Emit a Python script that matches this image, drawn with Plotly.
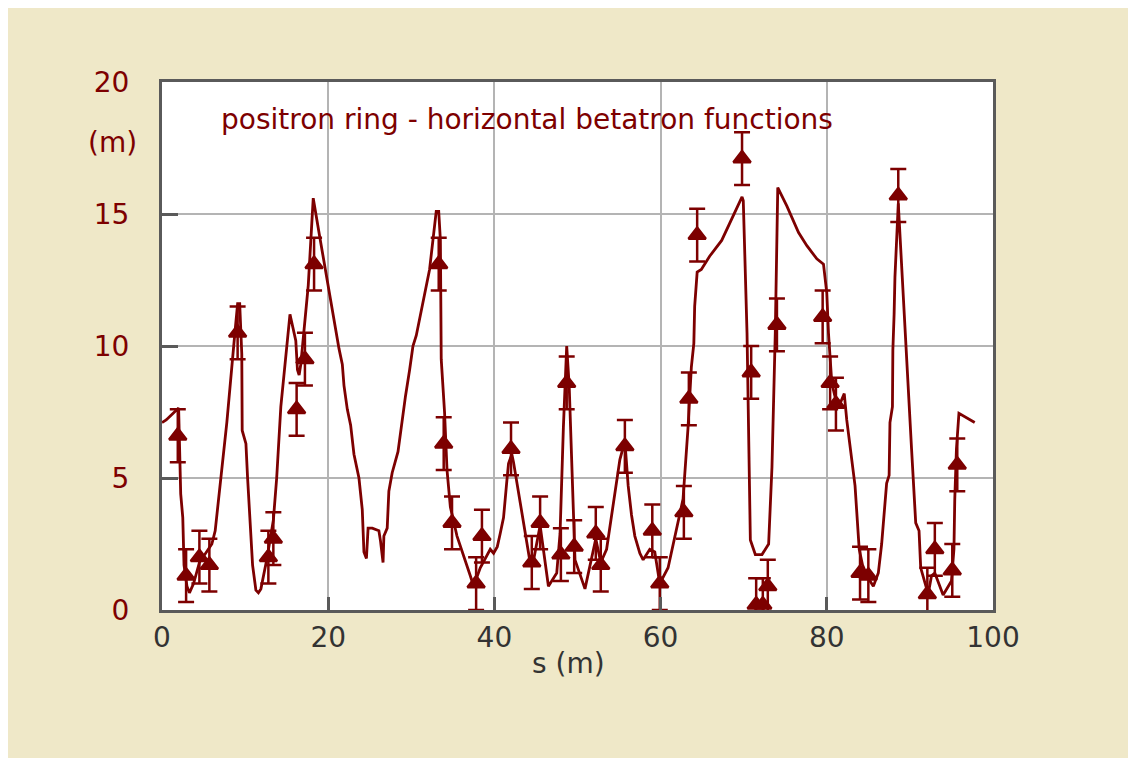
import plotly.graph_objects as go

# Model curve: horizontal beta function (m) vs s (m)
s_model = [0.0, 0.5, 1.0, 1.5, 2.0, 2.25, 2.5, 2.65, 3.0, 3.3, 3.8, 4.5, 5.3, 6.0, 6.4, 6.8,
           7.8, 8.8, 9.1, 9.35, 9.6, 9.65, 10.1, 10.3, 10.6, 10.9, 11.3, 11.6, 11.9, 12.6, 13.4,
           13.8, 14.3, 15.4, 16.1, 16.3, 16.5, 16.7, 17.6, 18.2, 19.0, 20.1, 20.7, 20.9, 21.3,
           21.7, 21.9, 22.3, 22.7, 23.1, 23.7, 24.1, 24.3, 24.6, 24.8, 25.3, 26.1, 26.3, 26.6,
           26.7, 27.1, 27.3, 27.7, 28.4, 28.8, 29.3, 29.8, 30.2, 30.6, 32.2, 33.0, 33.3, 33.5,
           33.6, 34.0, 34.3, 34.7, 35.5, 37.1, 37.5, 38.3, 39.5, 39.9, 40.35, 40.7, 41.1, 41.5,
           41.7, 42.1, 42.3, 44.3, 44.6, 45.5, 46.5, 47.5, 47.9, 48.3, 48.7, 49.0, 49.3, 49.7,
           50.9, 51.7, 52.2, 52.8, 53.5, 55.1, 55.7, 56.1, 56.5, 56.9, 57.5, 57.9, 58.7, 59.3,
           59.9, 60.9, 61.9, 62.7, 63.3, 63.7, 64.0, 64.1, 64.4, 64.9, 65.9, 67.35, 69.8, 69.95,
           70.4, 70.8, 71.4, 72.2, 73.0, 73.4, 73.8, 74.1, 75.2, 76.6, 77.6, 78.8, 79.6, 80.0,
           80.2, 80.6, 81.2, 81.7, 82.1, 82.4, 83.4, 83.9, 84.3, 85.0, 85.6, 86.0, 86.2, 86.6,
           86.9, 87.2, 87.5, 87.6, 87.9, 87.95, 88.1, 88.2, 88.6, 89.2, 89.6, 90.2, 90.7, 91.1,
           91.3, 91.8, 92.2, 92.6, 93.0, 94.0, 95.0, 95.3, 95.4, 95.6, 95.9, 97.8]
beta_model = [7.1, 7.2, 7.35, 7.5, 7.65, 4.4, 3.5, 1.7, 0.9, 0.65, 1.0, 1.8, 2.2, 2.5, 3.0, 4.2,
              7.1, 10.6, 11.6, 11.6, 9.7, 6.8, 6.3, 5.0, 3.2, 1.7, 0.75, 0.65, 0.8, 1.9, 3.4,
              5.0, 7.7, 11.2, 10.2, 9.1, 8.9, 9.3, 12.3, 15.6, 14.1, 12.1, 11.0, 10.5, 9.9,
              9.3, 8.5, 7.6, 7.0, 5.9, 5.0, 3.8, 2.2, 1.95, 3.1, 3.1, 3.0, 2.6, 1.8,
              2.8, 3.1, 4.5, 5.2, 6.0, 7.0, 8.1, 9.1, 10.0, 10.4, 12.9, 15.1, 15.1, 14.0,
              9.5, 7.5, 5.3, 3.9, 2.8, 1.3, 0.9, 1.6, 2.3, 2.15, 2.4, 2.9, 3.5, 4.9,
              5.55, 5.9, 5.6, 1.8, 1.7, 3.2, 0.9, 1.4, 2.9, 6.9, 10.0, 8.5, 5.4, 1.9,
              0.8, 1.9, 2.7, 1.8, 2.3, 5.7, 6.4, 4.7, 3.6, 2.8, 2.15, 1.9, 2.3, 2.2,
              1.0, 1.6, 3.0, 4.2, 6.9, 9.2, 10.1, 11.5, 12.8, 12.9, 13.4, 14.0, 15.65, 15.5,
              10.5, 2.65, 2.1, 2.1, 2.5, 5.4, 10.5, 16.0, 15.3, 14.3, 13.8, 13.3, 13.1, 12.0,
              10.5, 8.6, 7.8, 7.9, 8.2, 7.2, 4.7, 2.3, 1.7, 1.2, 0.9, 1.2, 1.4, 2.5,
              3.5, 4.8, 5.1, 7.1, 7.7, 9.85, 11.2, 12.6, 15.4, 12.1, 9.85, 6.1, 3.3, 3.0,
              1.6, 1.0, 0.6, 1.3, 1.4, 0.57, 1.1, 2.3, 4.2, 6.1, 7.45, 7.1]

# Measurements with error bars
s_meas = [1.9, 2.9, 4.5, 5.7, 9.1, 12.8, 13.4, 16.2, 17.2, 18.3, 33.3, 33.9, 34.9, 37.8,
          38.5, 42.0, 44.5, 45.5, 48.0, 48.7, 49.6, 52.2, 52.8, 55.7, 59.0, 59.9, 62.8,
          63.4, 64.4, 69.8, 70.9, 71.5, 72.3, 72.9, 74.0, 79.5, 80.4, 81.1, 84.0, 85.0,
          88.6, 92.1, 93.0, 95.1, 95.7]
beta_meas = [6.6, 1.3, 2.0, 1.7, 10.5, 2.0, 2.7, 7.6, 9.5, 13.1, 13.1, 6.3, 3.3, 1.0,
             2.8, 6.1, 1.8, 3.3, 2.1, 8.6, 2.4, 2.9, 1.7, 6.2, 3.0, 1.0, 3.7,
             8.0, 14.2, 17.1, 9.0, 0.2, 0.2, 0.9, 10.8, 11.1, 8.6, 7.8, 1.4, 1.3,
             15.7, 0.6, 2.3, 1.5, 5.5]
beta_err = [1.0] * len(beta_meas)

x_ticks = [0, 20, 40, 60, 80, 100]
y_ticks = [0, 5, 10, 15, 20]

RED = "#7d0000"
GREY_TXT = "#333333"
FONT = "DejaVu Sans"
FS = 28

fig = go.Figure()
fig.add_trace(go.Scatter(x=s_model, y=beta_model, mode="lines",
                         line=dict(color=RED, width=2.8), showlegend=False))
fig.add_trace(go.Scatter(x=s_meas, y=beta_meas, mode="markers",
                         marker=dict(symbol="triangle-up", size=15, color=RED,
                                     line=dict(color=RED, width=2.5)),
                         error_y=dict(type="data", array=beta_err, color=RED,
                                      thickness=2.5, width=8),
                         showlegend=False))

# page offset (browser body margin) and plot-area edges in screenshot pixels
OFF = 8
W, H = 1136, 758
L, R, T, B = 162, 993, 82, 610
pw, ph = R - L, B - T

def px(xp):
    return (xp - L) / pw

def py(yp):
    return (B - yp) / ph

fig.update_layout(
    width=W, height=H,
    margin=dict(l=L - OFF, r=W - (R - OFF), t=T - OFF, b=H - (B - OFF), pad=0),
    paper_bgcolor="#efe8c8",
    plot_bgcolor="white",
    font=dict(family=FONT, size=FS, color=GREY_TXT),
    xaxis=dict(range=[0, 100], tickvals=x_ticks, showgrid=True, gridcolor="#b4b4b4",
               gridwidth=2, showline=True, linecolor="#5a5a5a", linewidth=3, mirror=True,
               ticks="inside", ticklen=13, tickwidth=3, tickcolor="#5a5a5a",
               tickfont=dict(family=FONT, size=FS, color=GREY_TXT),
               ticklabelstandoff=0, zeroline=False),
    yaxis=dict(range=[0, 20], tickvals=y_ticks, showgrid=True, gridcolor="#b4b4b4",
               gridwidth=2, showline=True, linecolor="#5a5a5a", linewidth=3, mirror=True,
               ticks="inside", ticklen=16, tickwidth=3, tickcolor="#5a5a5a",
               tickfont=dict(family=FONT, size=FS, color=RED),
               ticklabelstandoff=24, zeroline=False),
    annotations=[
        dict(text="positron ring - horizontal betatron functions", xref="paper", yref="paper",
             x=px(219), y=py(119), xanchor="left", yanchor="middle", showarrow=False,
             font=dict(family=FONT, size=FS, color=RED)),
        dict(text="(m)", xref="paper", yref="paper", x=px(112), y=py(143),
             xanchor="center", yanchor="middle", showarrow=False,
             font=dict(family=FONT, size=FS, color=RED)),
        dict(text="s (m)", xref="paper", yref="paper", x=px(568), y=py(663),
             xanchor="center", yanchor="middle", showarrow=False,
             font=dict(family=FONT, size=FS, color=GREY_TXT)),
    ],
)

fig.write_html("out.html")
